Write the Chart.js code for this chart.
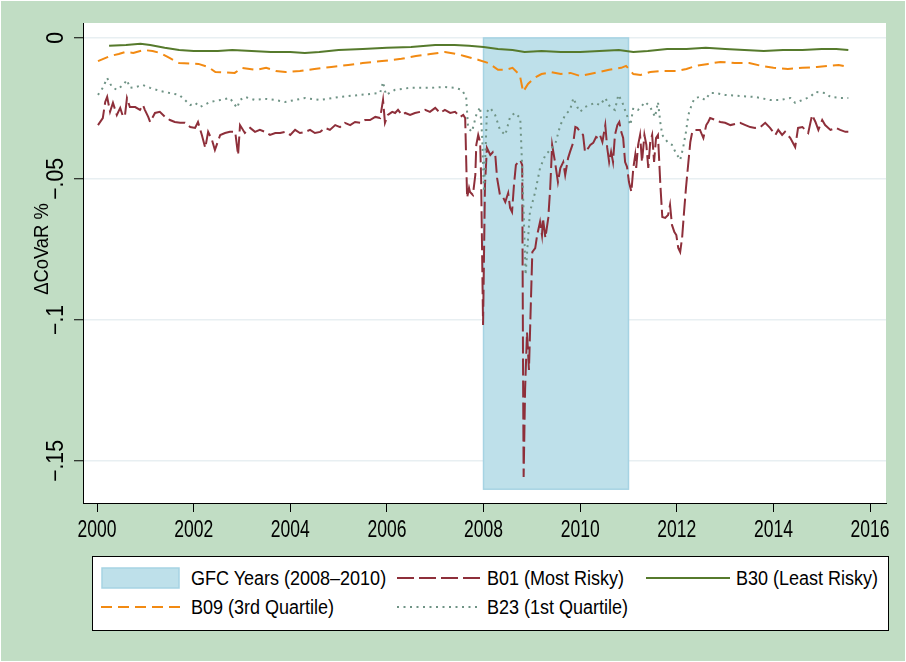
<!DOCTYPE html>
<html lang="en">
<head>
<meta charset="UTF-8">
<title>Delta CoVaR</title>
<script src="https://cdn.jsdelivr.net/npm/chart.js"></script>
<style>
  body { margin: 0; background: #fff; }
  #wrap { position: relative; width: 906px; height: 662px; font-family: "Liberation Sans", Arial, sans-serif; }
  #chart { position: absolute; left: 0; top: 0; }
  #legend { position: absolute; left: 92px; top: 556px; width: 795px; height: 73px; background: #fff; border: 1px solid #000; }
  .item { position: absolute; font-size: 20px; color: #000; white-space: nowrap; line-height: 22px; }
  .item svg { position: absolute; left: 0; top: 0; }
  .item span { position: absolute; top: 0; transform: scaleX(0.9); transform-origin: left center; }
</style>
</head>
<body>
<div id="wrap">
  <canvas id="chart" width="906" height="662"></canvas>
  <div id="legend"></div>
</div>
<script>
// ---- data (decimal years, ΔCoVaR %) ----
const xTicks = [2000, 2002, 2004, 2006, 2008, 2010, 2012, 2014, 2016];
const yTicks = [0, -0.05, -0.1, -0.15];
const yTickLabels = ["0", "\u2212.05", "\u2212.1", "\u2212.15"];

const gfcYears = [2008, 2011];
const gfcRange = [0, -0.16];

const b30Dates = [2000.25, 2000.6, 2000.9, 2001.1, 2001.4, 2001.7, 2002.0, 2002.5, 2002.8, 2003.2, 2003.6, 2004.0, 2004.3, 2004.6,
  2005.0, 2005.5, 2006.0, 2006.5, 2007.0, 2007.4, 2007.7, 2008.0, 2008.3, 2008.6, 2008.85, 2009.2, 2009.6, 2010.0, 2010.4, 2010.8,
  2011.1, 2011.4, 2011.8, 2012.2, 2012.6, 2013.0, 2013.4, 2013.8, 2014.2, 2014.6, 2015.0, 2015.3, 2015.55];
const b30Values = [-0.0028, -0.0025, -0.0021, -0.0025, -0.0035, -0.0043, -0.0046, -0.0046, -0.0043, -0.0046, -0.0050, -0.0050, -0.0053, -0.0050,
  -0.0043, -0.0039, -0.0035, -0.0032, -0.0025, -0.0025, -0.0028, -0.0032, -0.0039, -0.0043, -0.0050, -0.0046, -0.0050, -0.0050, -0.0046, -0.0043,
  -0.0050, -0.0046, -0.0039, -0.0039, -0.0035, -0.0039, -0.0043, -0.0046, -0.0043, -0.0043, -0.0039, -0.0039, -0.0043];

const b09Dates = [2000.02, 2000.27, 2000.45, 2000.58, 2000.75, 2000.97, 2001.15, 2001.3, 2001.5, 2001.7, 2002.1, 2002.3, 2002.45, 2002.85,
  2003.0, 2003.3, 2003.5, 2003.7, 2003.9, 2004.2, 2004.5, 2004.85, 2005.2, 2005.5, 2005.9, 2006.3, 2006.6, 2006.9, 2007.2, 2007.45,
  2007.6, 2007.75, 2007.9, 2008.1, 2008.3, 2008.45, 2008.6, 2008.75, 2008.82, 2008.92, 2009.05, 2009.2, 2009.4, 2009.6, 2009.8,
  2010.0, 2010.2, 2010.4, 2010.6, 2010.85, 2010.95, 2011.1, 2011.25, 2011.45, 2011.7, 2012.0, 2012.2, 2012.4, 2012.65, 2012.9,
  2013.2, 2013.5, 2013.75, 2014.0, 2014.3, 2014.6, 2014.9, 2015.15, 2015.35, 2015.55];
const b09Values = [-0.0082, -0.0064, -0.0057, -0.0050, -0.0053, -0.0043, -0.0046, -0.0053, -0.0071, -0.0089, -0.0092, -0.0103, -0.0121, -0.0124,
  -0.0106, -0.0113, -0.0106, -0.0117, -0.0121, -0.0117, -0.0110, -0.0103, -0.0096, -0.0089, -0.0082, -0.0074, -0.0064, -0.0057, -0.0050, -0.0057,
  -0.0064, -0.0071, -0.0078, -0.0089, -0.0113, -0.0113, -0.0106, -0.0131, -0.0191, -0.0163, -0.0142, -0.0128, -0.0121, -0.0128, -0.0124,
  -0.0135, -0.0128, -0.0121, -0.0113, -0.0106, -0.0099, -0.0128, -0.0131, -0.0121, -0.0117, -0.0117, -0.0110, -0.0099, -0.0092, -0.0085,
  -0.0089, -0.0089, -0.0099, -0.0106, -0.0110, -0.0106, -0.0103, -0.0099, -0.0096, -0.0103];

const b23Dates = [2000.02, 2000.12, 2000.21, 2000.31, 2000.41, 2000.54, 2000.62, 2000.68, 2000.8, 2000.95, 2001.1, 2001.3, 2001.5, 2001.7,
  2001.82, 2001.93, 2002.03, 2002.13, 2002.34, 2002.55, 2002.75, 2002.9, 2002.96, 2003.06, 2003.27, 2003.48, 2003.69, 2003.89,
  2004.1, 2004.31, 2004.62, 2005.03, 2005.45, 2005.86, 2005.92, 2005.98, 2006.17, 2006.48, 2006.89, 2007.2, 2007.41, 2007.55,
  2007.64, 2007.68, 2007.76, 2007.85, 2007.93, 2007.97, 2008.01, 2008.07, 2008.14, 2008.24, 2008.34, 2008.45, 2008.55, 2008.65,
  2008.76, 2008.8, 2008.84, 2008.87, 2008.92, 2008.96, 2009.07, 2009.17, 2009.28, 2009.38, 2009.48, 2009.59, 2009.69, 2009.79,
  2009.86, 2009.94, 2010.0, 2010.1, 2010.31, 2010.41, 2010.52, 2010.62, 2010.72, 2010.79, 2010.87, 2010.95, 2011.04, 2011.1,
  2011.2, 2011.35, 2011.45, 2011.55, 2011.61, 2011.66, 2011.7, 2011.82, 2011.9, 2011.97, 2012.07, 2012.13, 2012.19, 2012.24,
  2012.32, 2012.38, 2012.48, 2012.59, 2012.69, 2012.8, 2013.0, 2013.31, 2013.62, 2013.93, 2014.14, 2014.35, 2014.45, 2014.6,
  2014.76, 2014.87, 2015.07, 2015.18, 2015.38, 2015.55];
const b23Values = [-0.0202, -0.0177, -0.0142, -0.0174, -0.0184, -0.0167, -0.0149, -0.0177, -0.0174, -0.0167, -0.0177, -0.0188, -0.0195, -0.0202,
  -0.0220, -0.0238, -0.0230, -0.0245, -0.0227, -0.0220, -0.0213, -0.0248, -0.0220, -0.0209, -0.0220, -0.0216, -0.0220, -0.0227,
  -0.0220, -0.0213, -0.0220, -0.0209, -0.0202, -0.0195, -0.0156, -0.0202, -0.0184, -0.0177, -0.0177, -0.0174, -0.0177, -0.0184,
  -0.0209, -0.0319, -0.0333, -0.0273, -0.0245, -0.0344, -0.0546, -0.0262, -0.0248, -0.0273, -0.0326, -0.0344, -0.0280, -0.0266,
  -0.0284, -0.0461, -0.0674, -0.0840, -0.0716, -0.0617, -0.0546, -0.0461, -0.0415, -0.0397, -0.0379, -0.0309, -0.0273, -0.0255,
  -0.0213, -0.0245, -0.0262, -0.0245, -0.0230, -0.0238, -0.0213, -0.0245, -0.0255, -0.0202, -0.0227, -0.0266, -0.0309, -0.0248,
  -0.0255, -0.0227, -0.0245, -0.0280, -0.0227, -0.0301, -0.0344, -0.0372, -0.0379, -0.0404, -0.0433, -0.0390, -0.0333, -0.0273,
  -0.0230, -0.0213, -0.0209, -0.0220, -0.0195, -0.0195, -0.0202, -0.0206, -0.0209, -0.0220, -0.0220, -0.0213, -0.0230, -0.0220,
  -0.0209, -0.0191, -0.0195, -0.0209, -0.0213, -0.0213];

const b01Dates = [2000.02, 2000.12, 2000.17, 2000.21, 2000.27, 2000.33, 2000.41, 2000.48, 2000.54, 2000.58, 2000.62, 2000.68, 2000.79,
  2000.89, 2000.95, 2000.99, 2001.06, 2001.1, 2001.2, 2001.3, 2001.41, 2001.51, 2001.61, 2001.72, 2001.82, 2001.93, 2002.03, 2002.09,
  2002.17, 2002.24, 2002.3, 2002.38, 2002.44, 2002.55, 2002.65, 2002.75, 2002.86, 2002.92, 2002.96, 2003.06, 2003.17, 2003.27,
  2003.37, 2003.48, 2003.58, 2003.69, 2003.79, 2003.89, 2004.0, 2004.1, 2004.2, 2004.31, 2004.41, 2004.51, 2004.62, 2004.72,
  2004.82, 2004.93, 2005.03, 2005.13, 2005.24, 2005.34, 2005.45, 2005.55, 2005.65, 2005.76, 2005.86, 2005.92, 2005.96, 2006.02,
  2006.11, 2006.17, 2006.23, 2006.31, 2006.38, 2006.48, 2006.58, 2006.69, 2006.79, 2006.89, 2007.0, 2007.1, 2007.2, 2007.31,
  2007.41, 2007.52, 2007.58, 2007.62, 2007.66, 2007.7, 2007.72, 2007.78, 2007.83, 2007.85, 2007.89, 2007.93, 2007.95, 2007.99,
  2008.03, 2008.07, 2008.14, 2008.2, 2008.24, 2008.28, 2008.34, 2008.41, 2008.45, 2008.51, 2008.55, 2008.59, 2008.63, 2008.67,
  2008.72, 2008.76, 2008.8, 2008.82, 2008.83, 2008.86, 2008.9, 2008.94, 2008.98, 2009.01, 2009.07, 2009.11, 2009.17, 2009.21,
  2009.23, 2009.28, 2009.34, 2009.38, 2009.42, 2009.48, 2009.54, 2009.59, 2009.65, 2009.69, 2009.75, 2009.79, 2009.86, 2009.9,
  2009.94, 2010.0, 2010.06, 2010.1, 2010.17, 2010.21, 2010.27, 2010.33, 2010.37, 2010.41, 2010.46, 2010.52, 2010.56, 2010.6,
  2010.64, 2010.68, 2010.72, 2010.77, 2010.81, 2010.85, 2010.89, 2010.93, 2010.97, 2011.01, 2011.06, 2011.1, 2011.14, 2011.16,
  2011.2, 2011.24, 2011.28, 2011.33, 2011.37, 2011.41, 2011.45, 2011.49, 2011.53, 2011.57, 2011.61, 2011.66, 2011.7, 2011.76,
  2011.82, 2011.86, 2011.9, 2011.95, 2011.99, 2012.03, 2012.07, 2012.11, 2012.15, 2012.19, 2012.24, 2012.28, 2012.32, 2012.38,
  2012.48, 2012.55, 2012.61, 2012.65, 2012.69, 2012.8, 2012.9, 2013.0, 2013.11, 2013.21, 2013.31, 2013.42, 2013.52, 2013.62,
  2013.73, 2013.83, 2013.93, 2014.04, 2014.1, 2014.18, 2014.24, 2014.35, 2014.45, 2014.51, 2014.6, 2014.66, 2014.72, 2014.8,
  2014.87, 2014.93, 2015.01, 2015.07, 2015.18, 2015.3, 2015.38, 2015.49, 2015.55];
const b01Values = [-0.0309, -0.0284, -0.0227, -0.0209, -0.0262, -0.0230, -0.0273, -0.0248, -0.0280, -0.0273, -0.0213, -0.0245, -0.0245,
  -0.0255, -0.0238, -0.0255, -0.0280, -0.0298, -0.0266, -0.0262, -0.0280, -0.0291, -0.0298, -0.0301, -0.0301, -0.0316, -0.0319, -0.0298,
  -0.0344, -0.0390, -0.0333, -0.0362, -0.0397, -0.0344, -0.0337, -0.0333, -0.0333, -0.0415, -0.0309, -0.0337, -0.0319, -0.0333,
  -0.0326, -0.0333, -0.0344, -0.0337, -0.0337, -0.0333, -0.0344, -0.0326, -0.0337, -0.0333, -0.0326, -0.0337, -0.0333, -0.0319,
  -0.0326, -0.0309, -0.0316, -0.0301, -0.0309, -0.0298, -0.0301, -0.0291, -0.0291, -0.0280, -0.0284, -0.0220, -0.0301, -0.0273,
  -0.0262, -0.0266, -0.0255, -0.0273, -0.0266, -0.0273, -0.0266, -0.0262, -0.0255, -0.0262, -0.0248, -0.0266, -0.0255, -0.0266,
  -0.0262, -0.0280, -0.0273, -0.0284, -0.0567, -0.0532, -0.0546, -0.0557, -0.0486, -0.0379, -0.0344, -0.0369, -0.0496, -0.1018,
  -0.0521, -0.0390, -0.0415, -0.0404, -0.0408, -0.0496, -0.0557, -0.0567, -0.0582, -0.0550, -0.0603, -0.0617, -0.0521, -0.0450,
  -0.0440, -0.0433, -0.0450, -0.1248, -0.1557, -0.1248, -0.1043, -0.1177, -0.0936, -0.0759, -0.0745, -0.0699, -0.0652, -0.0699,
  -0.0638, -0.0709, -0.0638, -0.0532, -0.0379, -0.0440, -0.0511, -0.0461, -0.0440, -0.0486, -0.0426, -0.0404, -0.0369, -0.0316,
  -0.0319, -0.0333, -0.0344, -0.0404, -0.0390, -0.0379, -0.0372, -0.0351, -0.0355, -0.0344, -0.0369, -0.0309, -0.0390, -0.0440,
  -0.0404, -0.0440, -0.0344, -0.0309, -0.0298, -0.0333, -0.0355, -0.0440, -0.0457, -0.0511, -0.0546, -0.0461, -0.0415, -0.0461,
  -0.0379, -0.0344, -0.0440, -0.0344, -0.0379, -0.0461, -0.0369, -0.0344, -0.0440, -0.0355, -0.0344, -0.0521, -0.0635, -0.0638,
  -0.0628, -0.0592, -0.0663, -0.0688, -0.0699, -0.0745, -0.0759, -0.0709, -0.0617, -0.0532, -0.0440, -0.0369, -0.0333, -0.0326,
  -0.0326, -0.0355, -0.0309, -0.0298, -0.0284, -0.0291, -0.0298, -0.0301, -0.0309, -0.0305, -0.0301, -0.0309, -0.0316, -0.0319,
  -0.0316, -0.0301, -0.0319, -0.0344, -0.0326, -0.0344, -0.0333, -0.0355, -0.0387, -0.0319, -0.0316, -0.0326, -0.0337, -0.0273,
  -0.0298, -0.0326, -0.0291, -0.0309, -0.0326, -0.0319, -0.0326, -0.0333, -0.0333];

// ---- styles ----
const GREEN_BG = "#c1ddc4";
const colB01 = "#8e2f3a";
const colB30 = "#567a2c";
const colB09 = "#f28a12";
const colB23 = "#6f9385";
const gfcFill = "#bee0ea";
const gfcLine = "#a6d3e3";
const FONT = "'Liberation Sans', Arial, sans-serif";

function pts(dates, values) {
  return dates.map((d, i) => ({ x: d, y: values[i] }));
}

const backgroundPlugin = {
  id: "bg",
  beforeDraw(chart) {
    const { ctx, chartArea: a, width, height } = chart;
    ctx.save();
    ctx.fillStyle = GREEN_BG;
    ctx.fillRect(0, 0, width, height);
    ctx.strokeStyle = "#fff";
    ctx.lineWidth = 1;
    ctx.strokeRect(0.5, 0.5, width - 1, height - 1);
    ctx.fillStyle = "#fff";
    ctx.fillRect(a.left, a.top, a.right - a.left, a.bottom - a.top);
    ctx.restore();
  }
};

// GFC shaded area, placed with the scales
const gfcPlugin = {
  id: "gfc",
  beforeDatasetsDraw(chart) {
    const { ctx, scales: { x, y } } = chart;
    const x0 = x.getPixelForValue(gfcYears[0]);
    const x1 = x.getPixelForValue(gfcYears[1]);
    const y0 = y.getPixelForValue(gfcRange[0]);
    const y1 = y.getPixelForValue(gfcRange[1]);
    ctx.save();
    ctx.fillStyle = gfcFill;
    ctx.fillRect(x0, y0, x1 - x0, y1 - y0);
    ctx.strokeStyle = gfcLine;
    ctx.lineWidth = 1.5;
    ctx.strokeRect(x0, y0, x1 - x0, y1 - y0);
    ctx.restore();
  }
};

// Stata-like tick labels: narrow, tall type; y labels turned upright
const labelPlugin = {
  id: "labels",
  afterDraw(chart) {
    const { ctx, scales: { x, y } } = chart;
    ctx.save();
    ctx.fillStyle = "#000";
    ctx.textAlign = "center";
    ctx.textBaseline = "alphabetic";
    ctx.font = "24px " + FONT;
    xTicks.forEach(v => {
      ctx.save();
      ctx.translate(x.getPixelForValue(v), 537);
      ctx.scale(0.73, 1);
      ctx.fillText(String(v), 0, 0);
      ctx.restore();
    });
    ctx.font = "23px " + FONT;
    yTicks.forEach((v, i) => {
      ctx.save();
      ctx.translate(63, y.getPixelForValue(v));
      ctx.rotate(-Math.PI / 2);
      ctx.scale(0.92, 1);
      ctx.fillText(yTickLabels[i], 0, 0);
      ctx.restore();
    });
    ctx.font = "20px " + FONT;
    ctx.translate(48, 249);
    ctx.rotate(-Math.PI / 2);
    ctx.scale(0.92, 1);
    ctx.fillText("\u0394CoVaR %", 0, 0);
    ctx.restore();
  }
};

new Chart(document.getElementById("chart"), {
  type: "line",
  data: {
    datasets: [
      { label: "B23 (1st Quartile)", data: pts(b23Dates, b23Values), borderColor: colB23, borderWidth: 2, borderDash: [2, 4.5] },
      { label: "B09 (3rd Quartile)", data: pts(b09Dates, b09Values), borderColor: colB09, borderWidth: 2, borderDash: [11, 6] },
      { label: "B30 (Least Risky)", data: pts(b30Dates, b30Values), borderColor: colB30, borderWidth: 2 },
      { label: "B01 (Most Risky)", data: pts(b01Dates, b01Values), borderColor: colB01, borderWidth: 2, borderDash: [17, 5] }
    ]
  },
  options: {
    responsive: false,
    animation: false,
    events: [],
    layout: { padding: { left: 0, right: 20, top: 23, bottom: 119 } },
    elements: { point: { radius: 0 }, line: { tension: 0, fill: false } },
    plugins: { legend: { display: false }, tooltip: { enabled: false } },
    scales: {
      x: {
        type: "linear",
        min: 1999.71,
        max: 2016.33,
        afterBuildTicks: (s) => { s.ticks = xTicks.map(v => ({ value: v })); },
        afterFit: (s) => { s.height = 40; },
        ticks: { display: false },
        grid: { drawOnChartArea: false, tickLength: 9, tickColor: "#000", tickWidth: 1 },
        border: { display: true, color: "#000", width: 1 }
      },
      y: {
        type: "linear",
        min: -0.1649,
        max: 0.0053,
        afterBuildTicks: (s) => { s.ticks = yTicks.map(v => ({ value: v })); },
        afterFit: (s) => { s.width = 83; },
        ticks: { display: false },
        grid: { color: "#e8eff2", lineWidth: 1.5, tickLength: 9, tickColor: "#000", tickWidth: 1 },
        border: { display: true, color: "#000", width: 1 }
      }
    }
  },
  plugins: [backgroundPlugin, gfcPlugin, labelPlugin]
});

// ---- legend (html) ----
const legendItems = [
  { text: "GFC Years (2008\u20132010)", kind: "box", color: gfcFill, left: 8, top: 10 },
  { text: "B01 (Most Risky)", kind: "line", color: colB01, dash: "17 5", left: 304, top: 10 },
  { text: "B30 (Least Risky)", kind: "line", color: colB30, dash: "", left: 553, top: 10 },
  { text: "B09 (3rd Quartile)", kind: "line", color: colB09, dash: "11 6", left: 8, top: 39 },
  { text: "B23 (1st Quartile)", kind: "line", color: colB23, dash: "2 4.5", left: 304, top: 39 }
];
const legend = document.getElementById("legend");
legendItems.forEach(it => {
  const d = document.createElement("div");
  d.className = "item";
  d.style.left = it.left + "px";
  d.style.top = it.top + "px";
  let svg;
  if (it.kind === "box") {
    svg = '<svg width="80" height="22"><rect x="1" y="1" width="77" height="20" fill="' + it.color + '" stroke="' + gfcLine + '" stroke-width="1.5"/></svg>';
  } else {
    svg = '<svg width="84" height="22"><line x1="0" y1="11" x2="84" y2="11" stroke="' + it.color + '" stroke-width="2"' +
      (it.dash ? ' stroke-dasharray="' + it.dash + '"' : '') + '/></svg>';
  }
  d.innerHTML = svg + '<span style="left:90px">' + it.text + '</span>';
  legend.appendChild(d);
});
</script>
</body>
</html>
